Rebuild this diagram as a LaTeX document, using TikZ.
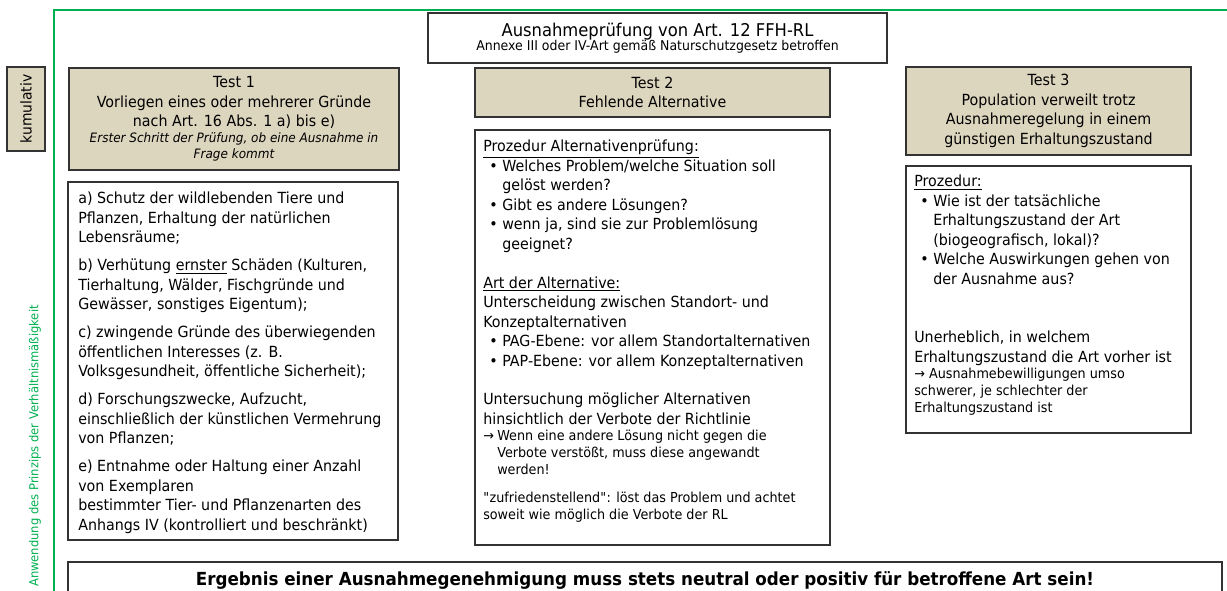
\documentclass[tikz,border=0pt]{standalone}
\usepackage{fontspec}
\setmainfont{DejaVu Sans}[FakeStretch=0.93]
\usepackage{tikz}
\usetikzlibrary{positioning}
\definecolor{sand}{HTML}{DDD6BF}
\definecolor{gruen}{HTML}{00B050}
\definecolor{rand}{HTML}{333333}
\newcommand{\bul}{\hspace*{4.5pt}\makebox[9.75pt][l]{\textbullet}}
\newcommand{\ein}{\hspace*{14.25pt}}
\newcommand{\pfeil}{\makebox[10.5pt][l]{→}}

\begin{document}
\begin{tikzpicture}[x=0.75pt, y=-0.75pt,
        kopf/.style={draw=rand, fill=sand, line width=0.8pt, align=center,
                     inner sep=0pt, font=\fontsize{11.5}{14.6}\selectfont},
        feld/.style={draw=rand, fill=white, line width=0.8pt, inner sep=0pt},
        txt/.style={anchor=north west, align=left, inner sep=0pt,
                    font=\fontsize{11.5}{14.6}\selectfont},
        klein/.style={txt, font=\fontsize{10.3}{12.75}\selectfont}
      ]
      \useasboundingbox (0,0) rectangle (1227,590);

      % Rahmen links und oben
      \draw[gruen, line width=1.5pt] (54,600) -- (54,10) -- (1235,10);
      \node[rotate=90, text=gruen, font=\fontsize{9.3}{12}\selectfont] (prinzip) at (35,446)
        {Anwendung des Prinzips der Verhältnismäßigkeit};
      \node[kopf, rotate=90, minimum width=63pt, minimum height=28.5pt,
            font=\fontsize{11.2}{12}\selectfont] (kum) at (26,109) {kumulativ};

      % Titel
      \node[feld, minimum width=344.25pt, minimum height=37.5pt, align=center] (titel) at (657.5,38)
        {{\fontsize{13.2}{16}\selectfont Ausnahmeprüfung von Art. 12 FFH-RL}\\[-1.5pt]
         {\fontsize{10.1}{10}\selectfont Annexe III oder IV-Art gemäß Naturschutzgesetz betroffen}};

      % Test 1
      \node[kopf, minimum width=247.5pt, minimum height=76.5pt] (test1) at (234,119)
        {Test 1\\Vorliegen eines oder mehrerer Gründe\\nach Art. 16 Abs. 1 a) bis e)\\[-2.5pt]
         {\fontsize{9.7}{12}\itshape Erster Schritt der Prüfung, ob eine Ausnahme in}\\[-2.5pt]
         {\fontsize{9.7}{12}\itshape Frage kommt}};
      \node[feld, minimum width=247.5pt, minimum height=268.5pt] (feld1) at (233,361) {};
      \node[txt] (gruende) at (78,192)
        {a) Schutz der wildlebenden Tiere und\\
         Pflanzen, Erhaltung der natürlichen\\
         Lebensräume;\\[6.4pt]
         b) Verhütung \underline{ernster} Schäden (Kulturen,\\
         Tierhaltung, Wälder, Fischgründe und\\
         Gewässer, sonstiges Eigentum);\\[6.4pt]
         c) zwingende Gründe des überwiegenden\\
         öffentlichen Interesses (z. B.\\
         Volksgesundheit, öffentliche Sicherheit);\\[6.4pt]
         d) Forschungszwecke, Aufzucht,\\
         einschließlich der künstlichen Vermehrung\\
         von Pflanzen;\\[6.4pt]
         e) Entnahme oder Haltung einer Anzahl\\
         von Exemplaren\\
         bestimmter Tier- und Pflanzenarten des\\
         Anhangs IV (kontrolliert und beschränkt)};

      % Test 2
      \node[kopf, minimum width=266.25pt, minimum height=36.75pt] (test2) at (652.5,92.5)
        {Test 2\\Fehlende Alternative};
      \node[feld, minimum width=266.25pt, minimum height=311.25pt] (feld2) at (652.5,337.5) {};
      \node[txt] (prozedur2) at (483,140)
        {\underline{Prozedur Alternativenprüfung:}\\
         \bul Welches Problem/welche Situation soll\\
         \ein gelöst werden?\\
         \bul Gibt es andere Lösungen?\\
         \bul wenn ja, sind sie zur Problemlösung\\
         \ein geeignet?\\[14.6pt]
         \underline{Art der Alternative:}\\
         Unterscheidung zwischen Standort- und\\
         Konzeptalternativen\\
         \bul PAG-Ebene: vor allem Standortalternativen\\
         \bul PAP-Ebene: vor allem Konzeptalternativen\\[14.6pt]
         Untersuchung möglicher Alternativen\\
         hinsichtlich der Verbote der Richtlinie};
      \node[klein] (hinweis2) at (483,430)
        {\pfeil Wenn eine andere Lösung nicht gegen die\\
         \hspace*{10.5pt}Verbote verstößt, muss diese angewandt\\
         \hspace*{10.5pt}werden!\\[8pt]
         \textquotedbl zufriedenstellend\textquotedbl: löst das Problem und achtet\\
         soweit wie möglich die Verbote der RL};

      % Test 3
      \node[kopf, minimum width=213.75pt, minimum height=66pt] (test3) at (1048.5,111)
        {Test 3\\Population verweilt trotz\\Ausnahmeregelung in einem\\günstigen Erhaltungszustand};
      \node[feld, minimum width=213.75pt, minimum height=200.25pt] (feld3) at (1048.5,299.5) {};
      \node[txt] (prozedur3) at (914,175)
        {\underline{Prozedur:}\\
         \bul Wie ist der tatsächliche\\
         \ein Erhaltungszustand der Art\\
         \ein (biogeografisch, lokal)?\\
         \bul Welche Auswirkungen gehen von\\
         \ein der Ausnahme aus?\\[29.2pt]
         Unerheblich, in welchem\\
         Erhaltungszustand die Art vorher ist};
      \node[klein] (hinweis3) at (914,368)
        {→ Ausnahmebewilligungen umso\\
         schwerer, je schlechter der\\
         Erhaltungszustand ist};

      % Ergebnis
      \node[feld, minimum width=865.5pt, minimum height=43.5pt] (ergebnis) at (645,591) {};
      \node[font=\fontsize{13.5}{14}\bfseries, inner sep=0pt] (ergtext) at (645,580)
        {Ergebnis einer Ausnahmegenehmigung muss stets neutral oder positiv für betroffene Art sein!};
    \end{tikzpicture}
\end{document}
